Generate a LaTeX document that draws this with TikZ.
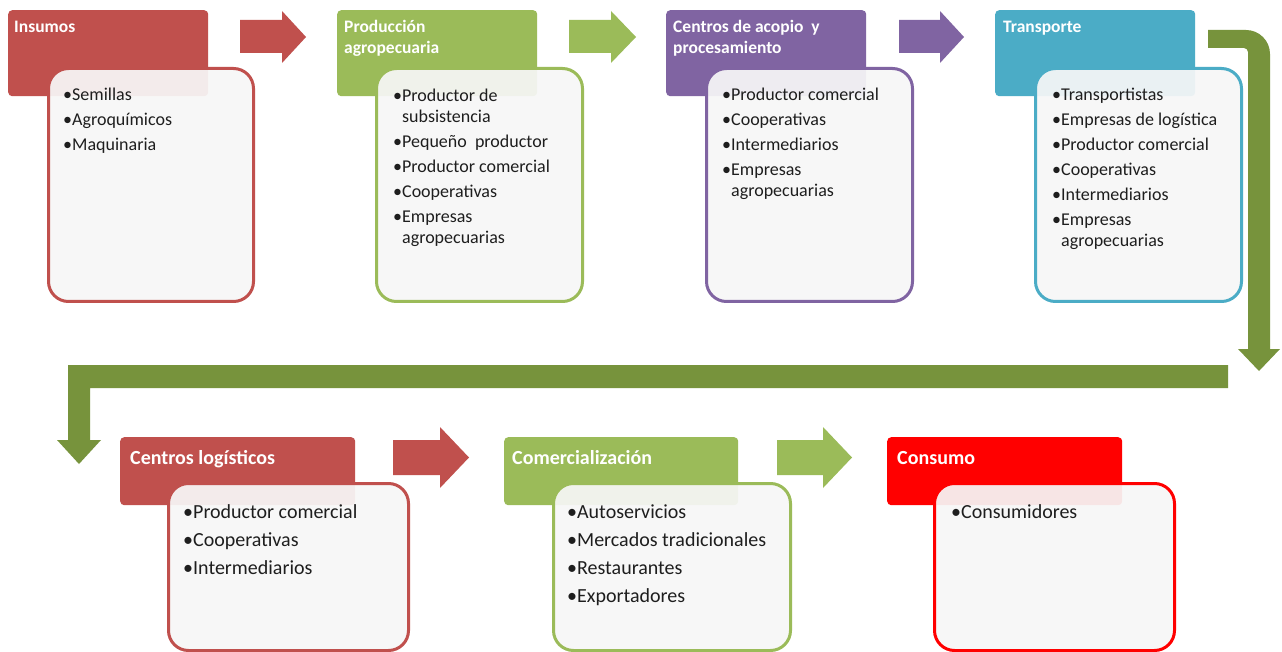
\documentclass[tikz,border=0pt]{standalone}
\usepackage{fontspec}
\setmainfont{Carlito}
\definecolor{cred}{HTML}{C0504D}
\definecolor{cgreen}{HTML}{9BBB59}
\definecolor{cpurple}{HTML}{8064A2}
\definecolor{cblue}{HTML}{4BACC6}
\definecolor{cbright}{HTML}{FF0000}
\definecolor{colive}{HTML}{77933C}
\definecolor{ctext}{HTML}{1E1E1E}
\tikzset{
  hdr/.style={fill=#1, draw=none, rounded corners=4pt, inner sep=0pt, anchor=north west},
  bodybox/.style={draw=#1, line width=3pt, rounded corners=20pt, fill=white!97!black, fill opacity=0.93, inner sep=0pt, anchor=north west},
  hdrtop/.style={text=white, font=\fontsize{17.5}{21}\selectfont\bfseries, inner sep=0pt, anchor=base west},
  hdrbot/.style={text=white, font=\fontsize{20}{24}\selectfont\bfseries, inner sep=0pt, anchor=base west},
  txttop/.style={text=ctext, font=\fontsize{18}{21}\selectfont, inner sep=0pt, anchor=base west},
  txtbot/.style={text=ctext, font=\fontsize{20}{28}\selectfont, inner sep=0pt, anchor=base west},
}
\newcommand{\bu}{\textbullet}
\begin{document}
\begin{tikzpicture}[x=1pt,y=-1pt]
\fill[white] (0,0) rectangle (1282,652);
\useasboundingbox (0,0) rectangle (1282,652);

% ---------- top row ----------
% Insumos
\node[hdr=cred, minimum width=200pt, minimum height=86pt] (h1) at (8,10) {};
\node[bodybox=cred, minimum width=205pt, minimum height=233pt] (b1) at (47,67) {};
\node[hdrtop] (h1t) at (14,33) {Insumos};
\node[txttop] (b1t) at (63,101) {\begin{tabular}[t]{@{}l@{}l@{}}\bu&Semillas\\[4pt]\bu&Agroquímicos\\[4pt]\bu&Maquinaria\end{tabular}};

% Produccion
\node[hdr=cgreen, minimum width=200pt, minimum height=86pt] (h2) at (337,10) {};
\node[bodybox=cgreen, minimum width=206pt, minimum height=233pt] (b2) at (375,67) {};
\node[hdrtop] (h2t) at (344,33) {\begin{tabular}[t]{@{}l@{}}Producción\\agropecuaria\end{tabular}};
\node[txttop] (b2t) at (393,102) {\begin{tabular}[t]{@{}l@{}l@{}}\bu&Productor de\\&subsistencia\\[4pt]\bu&Pequeño\ \ productor\\[4pt]\bu&Productor comercial\\[4pt]\bu&Cooperativas\\[4pt]\bu&Empresas\\&agropecuarias\end{tabular}};

% Centros de acopio
\node[hdr=cpurple, minimum width=200pt, minimum height=86pt] (h3) at (666,10) {};
\node[bodybox=cpurple, minimum width=206pt, minimum height=233pt] (b3) at (705,67) {};
\node[hdrtop] (h3t) at (673,33) {\begin{tabular}[t]{@{}l@{}}Centros de acopio\ \ y\\procesamiento\end{tabular}};
\node[txttop] (b3t) at (722,101) {\begin{tabular}[t]{@{}l@{}l@{}}\bu&Productor comercial\\[4pt]\bu&Cooperativas\\[4pt]\bu&Intermediarios\\[4pt]\bu&Empresas\\&agropecuarias\end{tabular}};

% Transporte
\node[hdr=cblue, minimum width=200pt, minimum height=86pt] (h4) at (995,10) {};
\node[bodybox=cblue, minimum width=206pt, minimum height=233pt] (b4) at (1034,67) {};
\node[hdrtop] (h4t) at (1003,33) {Transporte};
\node[txttop] (b4t) at (1052,101) {\begin{tabular}[t]{@{}l@{}l@{}}\bu&Transportistas\\[4pt]\bu&Empresas\ de logística\\[4pt]\bu&Productor comercial\\[4pt]\bu&Cooperativas\\[4pt]\bu&Intermediarios\\[4pt]\bu&Empresas\\&agropecuarias\end{tabular}};

% top arrows
\fill[cred] (240,20) -- (282,20) -- (282,11) -- (306,37) -- (282,63) -- (282,53) -- (240,53) -- cycle;
\fill[cgreen] (569,20) -- (611,20) -- (611,11) -- (636,37) -- (611,63) -- (611,53) -- (569,53) -- cycle;
\fill[cpurple] (899,20) -- (940,20) -- (940,11) -- (964,37) -- (940,63) -- (940,53) -- (899,53) -- cycle;

% big bent connector
\fill[colive] (1208,30) -- (1246,30) .. controls (1259.25,30) and (1270,40.75) .. (1270,54)
  -- (1270,349) -- (1280,349) -- (1259,371) -- (1238,349) -- (1248,349) -- (1248,52)
  .. controls (1248,49.8) and (1246.2,48) .. (1244,48) -- (1208,48) -- cycle;
\fill[colive] (1228,365) -- (68,365) -- (68,440) -- (57,440) -- (79,464) -- (101,440)
  -- (90,440) -- (90,388) -- (1228,388) -- cycle;

% ---------- bottom row ----------
% Centros logisticos
\node[hdr=cred, minimum width=235pt, minimum height=68pt] (h5) at (120,437) {};
\node[bodybox=cred, minimum width=240pt, minimum height=167pt] (b5) at (167,482) {};
\node[hdrbot] (h5t) at (130,464) {Centros logísticos};
\node[txtbot] (b5t) at (183,518) {\begin{tabular}[t]{@{}l@{}l@{}}\bu&Productor comercial\\\bu&Cooperativas\\\bu&Intermediarios\end{tabular}};

% Comercializacion
\node[hdr=cgreen, minimum width=234pt, minimum height=68pt] (h6) at (504,437) {};
\node[bodybox=cgreen, minimum width=237pt, minimum height=167pt] (b6) at (552,482) {};
\node[hdrbot] (h6t) at (512,464) {Comercialización};
\node[txtbot] (b6t) at (567,518) {\begin{tabular}[t]{@{}l@{}l@{}}\bu&Autoservicios\\\bu&Mercados tradicionales\\\bu&Restaurantes\\\bu&Exportadores\end{tabular}};

% Consumo
\node[hdr=cbright, minimum width=235pt, minimum height=68pt] (h7) at (887,437) {};
\node[bodybox=cbright, minimum width=240pt, minimum height=167pt] (b7) at (933,482) {};
\node[hdrbot] (h7t) at (897,464) {Consumo};
\node[txtbot] (b7t) at (951,518) {\begin{tabular}[t]{@{}l@{}l@{}}\bu&Consumidores\end{tabular}};

% bottom arrows
\fill[cred] (393,440) -- (440,440) -- (440,427) -- (469,457.5) -- (440,488) -- (440,475) -- (393,475) -- cycle;
\fill[cgreen] (777,440) -- (823,440) -- (823,427) -- (852,457.5) -- (823,488) -- (823,475) -- (777,475) -- cycle;
\end{tikzpicture}
\end{document}
